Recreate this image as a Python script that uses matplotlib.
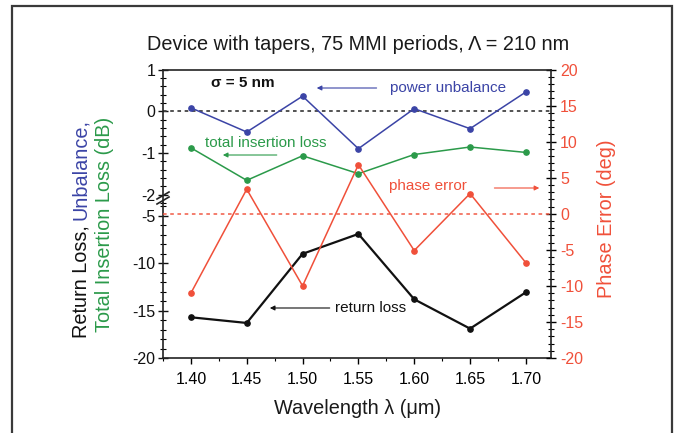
import matplotlib
matplotlib.use("Agg")
import matplotlib.pyplot as plt
from matplotlib.ticker import MultipleLocator, FixedLocator
from matplotlib.patches import Rectangle
from matplotlib.lines import Line2D

plt.rcParams['font.family'] = ['Liberation Sans', 'DejaVu Sans']
plt.rcParams['axes.unicode_minus'] = False

# ---- data ----
wavelength = [1.40, 1.45, 1.50, 1.55, 1.60, 1.65, 1.70]
power_unbalance = [0.08, -0.50, 0.36, -0.90, 0.06, -0.42, 0.46]
insertion_loss = [-0.88, -1.66, -1.07, -1.50, -1.04, -0.86, -0.99]
return_loss = [-15.7, -16.3, -9.0, -6.9, -13.8, -16.9, -13.06]
phase_error = [-11.0, 3.4, -10.0, 6.8, -5.1, 2.8, -6.8]
xticks = [1.40, 1.45, 1.50, 1.55, 1.60, 1.65, 1.70]
xticklabels = ["1.40", "1.45", "1.50", "1.55", "1.60", "1.65", "1.70"]

BLUE = '#3b44a6'
GREEN = '#2b9a4a'
RED = '#f0503a'
BLACK = '#111111'

W, H = 677, 433
fig = plt.figure(figsize=(W / 100, H / 100), dpi=100)

def fx(px):
    return px / W

def fy(py):
    return 1 - py / H

L, R, T, B, BRK = 163, 551, 69.5, 358, 203
xlim = (1.375, 1.7225)

ax1 = fig.add_axes([fx(L), fy(BRK), fx(R) - fx(L), fy(T) - fy(BRK)])
ax2 = fig.add_axes([fx(L), fy(B), fx(R) - fx(L), fy(BRK) - fy(B)])
ax3 = fig.add_axes([fx(L), fy(B), fx(R) - fx(L), fy(T) - fy(B)])

for ax in (ax1, ax2, ax3):
    ax.set_xlim(*xlim)
    ax.patch.set_visible(False)

TL = 11.5  # tick label size

# top left axis
ax1.set_ylim(1 - (BRK - T) / 41.67, 1)
for s in ('top', 'right', 'bottom'):
    ax1.spines[s].set_visible(False)
ax1.set_xticks([])
ax1.yaxis.set_major_locator(FixedLocator([1, 0, -1, -2]))
ax1.set_yticklabels(['1', '0', '-1', '-2'])
ax1.yaxis.set_minor_locator(MultipleLocator(0.2))

# bottom left axis
ax2.set_ylim(-20, -20 + (B - BRK) / 9.47)
for s in ('top', 'right'):
    ax2.spines[s].set_visible(False)
ax2.yaxis.set_major_locator(FixedLocator([-5, -10, -15, -20]))
ax2.set_yticklabels(['-5', '-10', '-15', '-20'])
ax2.yaxis.set_minor_locator(MultipleLocator(1))
ax2.set_xticks(xticks)
ax2.set_xticklabels(xticklabels)
ax2.xaxis.set_minor_locator(MultipleLocator(0.025))

for ax in (ax1, ax2):
    ax.tick_params(axis='y', which='major', direction='inout', length=7, width=1, labelsize=TL, pad=2, colors=BLACK)
    ax.tick_params(axis='y', which='minor', direction='inout', length=4, width=0.8)
ax2.tick_params(axis='x', which='major', direction='out', length=4, width=1, labelsize=TL, pad=6)
ax2.tick_params(axis='x', which='minor', direction='out', length=2.5, width=0.8)

# right axis (phase)
ax3.set_ylim(-20, 20)
ax3.spines['left'].set_visible(False)
ax3.spines['bottom'].set_visible(False)
ax3.set_xticks([])
ax3.yaxis.tick_right()
ax3.yaxis.set_major_locator(MultipleLocator(5))
ax3.yaxis.set_minor_locator(MultipleLocator(1))
ax3.tick_params(axis='y', which='major', direction='inout', length=7, width=1, labelsize=TL, labelcolor=RED, pad=3)
ax3.tick_params(axis='y', which='minor', direction='inout', length=4, width=0.8)

for ax in (ax1, ax2, ax3):
    for s in ax.spines.values():
        s.set_linewidth(1.2)
        s.set_color('#222222')

# reference lines
ax1.axhline(0, color='#444444', lw=1.3, ls=(0, (2, 2)))
ax3.axhline(0, color=RED, lw=1.3, ls=(0, (2, 2)), alpha=0.8)

# series
MS = 3.8
ax1.plot(wavelength, power_unbalance, color=BLUE, lw=1.1, marker='o', ms=MS)
ax1.plot(wavelength, insertion_loss, color=GREEN, lw=1.1, marker='o', ms=MS)
ax2.plot(wavelength, return_loss, color=BLACK, lw=1.6, marker='o', ms=MS)
ax3.plot(wavelength, phase_error, color=RED, lw=1.1, marker='o', ms=MS)

# annotations
AF = 11
ax1.text(1.4466, 0.676, 'σ = 5 nm', fontsize=AF, fontweight='bold', ha='center', va='center', color=BLACK)
ax1.text(1.578, 0.556, 'power unbalance', fontsize=AF, color=BLUE, ha='left', va='center')
ax1.annotate('', xy=(1.5127, 0.556), xytext=(1.5663, 0.556),
             arrowprops=dict(arrowstyle='-|>', color=BLUE, lw=0.8, mutation_scale=7, shrinkA=0, shrinkB=0))
ax1.text(1.4126, -0.764, 'total insertion loss', fontsize=AF, color=GREEN, ha='left', va='center')
ax1.annotate('', xy=(1.4286, -1.052), xytext=(1.4769, -1.052),
             arrowprops=dict(arrowstyle='-|>', color=GREEN, lw=0.8, mutation_scale=7, shrinkA=0, shrinkB=0))
ax3.text(1.577, 3.85, 'phase error', fontsize=AF, color=RED, ha='left', va='center')
ax3.annotate('', xy=(1.7120, 3.57), xytext=(1.6718, 3.57),
             arrowprops=dict(arrowstyle='-|>', color=RED, lw=0.8, mutation_scale=7, shrinkA=0, shrinkB=0))
ax2.text(1.5288, -14.72, 'return loss', fontsize=AF, color=BLACK, ha='left', va='center')
ax2.annotate('', xy=(1.4707, -14.72), xytext=(1.5243, -14.72),
             arrowprops=dict(arrowstyle='-|>', color=BLACK, lw=0.8, mutation_scale=7, shrinkA=0, shrinkB=0))

# axis break marks on the left spine
for c in (195.5, 200.5):
    fig.add_artist(Line2D([fx(L - 6), fx(L + 6)], [fy(c + 3.5), fy(c - 3.5)],
                          color='#222222', lw=1.2))

# titles and labels
LF = 14.3
fig.text(fx(358), fy(44), 'Device with tapers, 75 MMI periods, Λ = 210 nm', fontsize=LF,
         ha='center', va='center', color='#1a1a1a')
fig.text(fx(358), fy(409), 'Wavelength λ (μm)', fontsize=LF, ha='center', va='center', color='#1a1a1a')

fig.canvas.draw()
r = fig.canvas.get_renderer()
t1 = fig.text(fx(81), fy(338), 'Return Loss, ', fontsize=LF, rotation=90, ha='center', va='bottom', color=BLACK)
bb = t1.get_window_extent(r)
fig.text(fx(81), bb.y1 / fig.bbox.height, 'Unbalance,', fontsize=LF, rotation=90,
         ha='center', va='bottom', color=BLUE)
fig.text(fx(105), fy(224), 'Total Insertion Loss (dB)', fontsize=LF, rotation=90, ha='center', va='center', color=GREEN)
fig.text(fx(606), fy(219), 'Phase Error (deg)', fontsize=LF, rotation=90, ha='center', va='center', color=RED)

# outer frame
fig.add_artist(Rectangle((fx(12), -0.2), fx(672) - fx(12), fy(6) + 0.2, fill=False,
                         edgecolor='#3a3a3a', lw=1.6))

fig.savefig('out.png', dpi=100)
